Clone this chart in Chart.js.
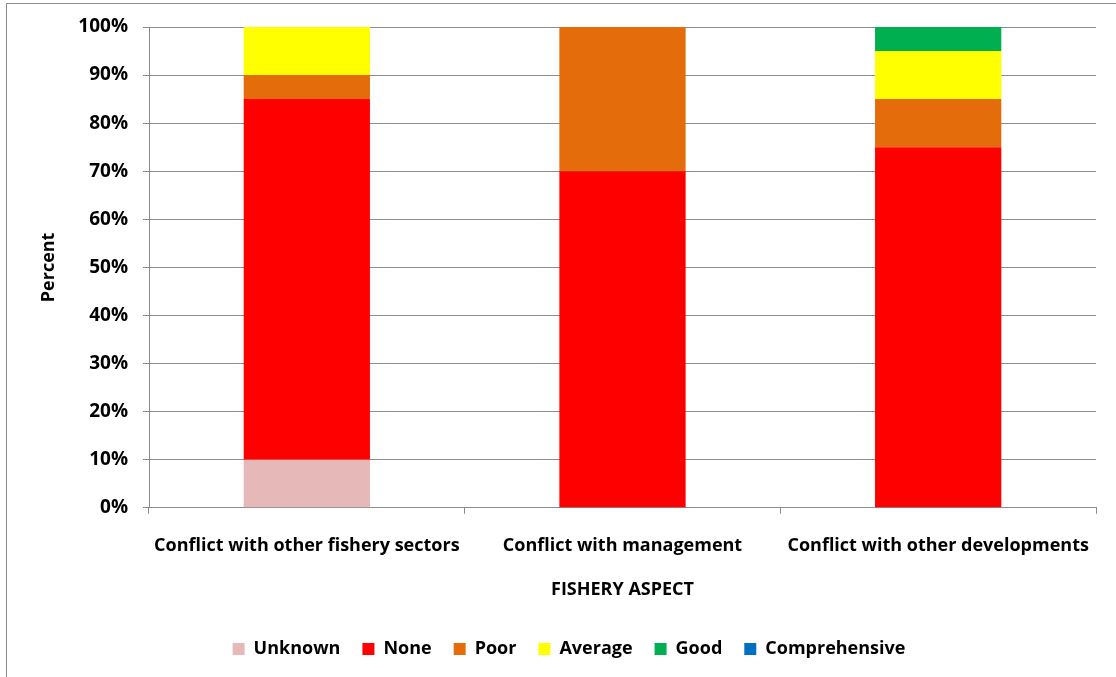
<!DOCTYPE html>
<html>
<head>
<meta charset="utf-8">
<script src="https://cdn.jsdelivr.net/npm/chart.js@4.4.0/dist/chart.umd.min.js"></script>
<style>
  body { margin: 0; background: #fff; }
  #frame { position: absolute; left: 6px; top: 3px; width: 1200px; height: 700px; border-left: 1px solid #8c8c8c; border-top: 1px solid #8c8c8c; }
  #wrap { position: absolute; left: 0; top: 0; width: 1116px; height: 677px; }
</style>
</head>
<body>
<div id="frame"></div>
<div id="wrap"><canvas id="chart" width="1116" height="677"></canvas></div>
<script>
const categories = ['Conflict with other fishery sectors', 'Conflict with management', 'Conflict with other developments'];
const unknown = [10, 0, 0];
const none = [75, 70, 75];
const poor = [5, 30, 10];
const average = [10, 0, 10];
const good = [0, 0, 5];
const comprehensive = [0, 0, 0];
const yTicks = [0, 10, 20, 30, 40, 50, 60, 70, 80, 90, 100];

const fontFamily = '"Open Sans", sans-serif';
const axisGray = '#8c8c8c';

const ctx = document.getElementById('chart').getContext('2d');

const graph = new Chart(ctx, {
    type: 'bar',
    data: {
        labels: categories,
        datasets: [
            { label: 'Unknown', data: unknown, backgroundColor: '#E6B8B7' },
            { label: 'None', data: none, backgroundColor: '#FF0000' },
            { label: 'Poor', data: poor, backgroundColor: '#E46C0A' },
            { label: 'Average', data: average, backgroundColor: '#FFFF00' },
            { label: 'Good', data: good, backgroundColor: '#00B050' },
            { label: 'Comprehensive', data: comprehensive, backgroundColor: '#0070C0' }
        ]
    },
    options: {
        responsive: false,
        animation: false,
        categoryPercentage: 1,
        barPercentage: 0.4,
        // left padding keeps the legend centred where the original has it
        layout: { padding: { left: 42, right: 20, top: 27, bottom: 9 } },
        plugins: {
            tooltip: { enabled: false },
            legend: {
                position: 'bottom',
                labels: {
                    boxWidth: 12,
                    boxHeight: 12,
                    padding: 22,
                    color: '#000',
                    font: { family: fontFamily, size: 18, weight: 'bold' }
                }
            }
        },
        scales: {
            x: {
                stacked: true,
                grid: { drawOnChartArea: false, drawTicks: true, tickLength: 6, color: axisGray, offset: true },
                border: { color: axisGray, width: 1 },
                ticks: { color: '#000', padding: 21, maxRotation: 0, font: { family: fontFamily, size: 18, weight: 'bold' } },
                title: { display: true, text: 'FISHERY ASPECT', color: '#000', padding: { top: 2, bottom: 17 }, font: { family: fontFamily, size: 18, weight: 'bold' } }
            },
            y: {
                stacked: true,
                min: 0,
                max: 100,
                afterBuildTicks: (scale) => { scale.ticks = yTicks.map(v => ({ value: v })); },
                afterFit: (scale) => { scale.width = 107; },
                grid: { color: axisGray, tickLength: 6 },
                border: { color: axisGray, width: 1 },
                ticks: { color: '#000', padding: 15, callback: v => v + '%', font: { family: fontFamily, size: 19, weight: 'bold' } },
                title: { display: true, text: 'Percent', color: '#000', padding: { top: -4, bottom: 0 }, font: { family: fontFamily, size: 18, weight: 'bold' } }
            }
        }
    }
});
</script>
</body>
</html>
